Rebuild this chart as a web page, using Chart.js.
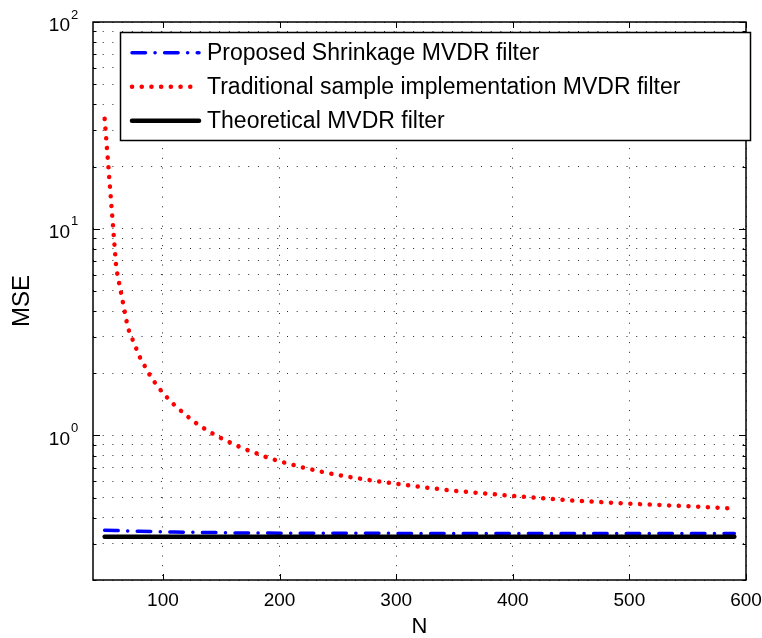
<!DOCTYPE html>
<html>
<head>
<meta charset="utf-8">
<script src="https://cdn.jsdelivr.net/npm/chart.js@4.4.0/dist/chart.umd.min.js"></script>
<style>
  body { margin: 0; background: #fff; }
  canvas { display: block; }
</style>
</head>
<body>
<canvas id="myChart" width="762" height="638"></canvas>
<script>
// sample sizes N
var nVals = [50, 60, 65, 70, 80, 90, 100, 110, 120, 130, 140, 150, 160, 170, 180, 190, 200,
	220, 240, 260, 280, 300, 325, 350, 375, 400, 450, 500, 550, 590];
// Proposed Shrinkage MVDR filter
var shrinkMSE = [0.348, 0.347, 0.346, 0.345, 0.344, 0.343, 0.342, 0.341, 0.340, 0.340, 0.339, 0.339, 0.338, 0.338, 0.338, 0.338, 0.337,
	0.337, 0.337, 0.337, 0.337, 0.336, 0.336, 0.336, 0.336, 0.336, 0.336, 0.336, 0.336, 0.336];
// Traditional sample implementation MVDR filter
var sampleMSE = [34, 6.4, 4.6, 3.3, 2.4, 1.9, 1.6, 1.4, 1.25, 1.13, 1.04, 0.97, 0.91, 0.86, 0.82, 0.78, 0.75,
	0.70, 0.66, 0.63, 0.605, 0.585, 0.56, 0.54, 0.525, 0.51, 0.485, 0.468, 0.455, 0.443];
// Theoretical MVDR filter
var theoN = [50, 590];
var theoMSE = [0.324, 0.324];

var xTicks = [100, 200, 300, 400, 500, 600];
var yMajor = [1, 10, 100];
var yExp = ['0', '1', '2'];
var yGrid = [0.2, 0.3, 0.4, 0.5, 0.6, 0.7, 0.8, 0.9, 1, 2, 3, 4, 5, 6, 7, 8, 9, 10, 20, 30, 40, 50, 60, 70, 80, 90, 100];

var FONT = "'Liberation Sans', Arial, Helvetica, sans-serif";

function pts(xs, ys) {
	var out = [];
	for (var i in xs) {
		out.push({x: xs[i], y: ys[i]});
	}
	return out;
}

var chartdata = {
	datasets: [
		{
			label: 'Proposed Shrinkage MVDR filter',
			data: pts(nVals, shrinkMSE),
			borderColor: '#0000ff',
			borderWidth: 3.5,
			borderDash: [13.5, 9.5, 0.1, 9.5],
			borderCapStyle: 'round',
			order: 1
		},
		{
			label: 'Traditional sample implementation MVDR filter',
			data: pts(nVals, sampleMSE),
			borderColor: '#ff0000',
			borderWidth: 4.5,
			borderDash: [0.1, 9.6],
			borderCapStyle: 'round',
			order: 2
		},
		{
			label: 'Theoretical MVDR filter',
			data: pts(theoN, theoMSE),
			borderColor: '#000000',
			borderWidth: 4.5,
			borderCapStyle: 'round',
			order: 0
		}
	]
};

// frame, inward ticks, y labels with exponents, legend box
var matlabLook = {
	id: 'matlabLook',
	afterDraw: function(chart) {
		var ctx = chart.ctx;
		var a = chart.chartArea;
		var xs = chart.scales.x, ys = chart.scales.y;
		ctx.save();
		ctx.strokeStyle = '#000';
		ctx.lineWidth = 1.5;
		ctx.strokeRect(a.left, a.top, a.right - a.left, a.bottom - a.top);

		ctx.lineWidth = 1;
		ctx.beginPath();
		xTicks.forEach(function(v) {
			var px = Math.round(xs.getPixelForValue(v)) + 0.5;
			ctx.moveTo(px, a.bottom); ctx.lineTo(px, a.bottom - 6);
			ctx.moveTo(px, a.top); ctx.lineTo(px, a.top + 6);
		});
		yGrid.forEach(function(v) {
			var py = Math.round(ys.getPixelForValue(v)) + 0.5;
			var len = yMajor.indexOf(v) >= 0 ? 7 : 3.5;
			ctx.moveTo(a.left, py); ctx.lineTo(a.left + len, py);
			ctx.moveTo(a.right, py); ctx.lineTo(a.right - len, py);
		});
		ctx.stroke();

		// y tick labels 10^k
		ctx.fillStyle = '#000';
		ctx.textBaseline = 'middle';
		yMajor.forEach(function(v, i) {
			var py = ys.getPixelForValue(v);
			ctx.font = '19px ' + FONT;
			ctx.textAlign = 'right';
			ctx.fillText('10', 70, py + 4);
			ctx.font = '13px ' + FONT;
			ctx.textAlign = 'left';
			ctx.fillText(yExp[i], 71, py - 7);
		});

		// legend
		var lx = 120.5, ly = 32.5, lw = 630, lh = 108;
		ctx.fillStyle = '#fff';
		ctx.fillRect(lx, ly, lw, lh);
		ctx.strokeStyle = '#000';
		ctx.lineWidth = 1.5;
		ctx.strokeRect(lx, ly, lw, lh);
		var rows = [52.7, 86.7, 120.7];
		chart.data.datasets.forEach(function(ds, i) {
			ctx.save();
			ctx.strokeStyle = ds.borderColor;
			ctx.lineWidth = ds.borderWidth;
			ctx.lineCap = 'round';
			ctx.setLineDash(ds.borderDash || []);
			ctx.beginPath();
			ctx.moveTo(132, rows[i]);
			ctx.lineTo(199, rows[i]);
			ctx.stroke();
			ctx.restore();
			ctx.fillStyle = '#000';
			ctx.font = '23px ' + FONT;
			ctx.textAlign = 'left';
			ctx.textBaseline = 'middle';
			ctx.fillText(ds.label, 207, rows[i] + 1);
		});
		ctx.restore();
	}
};

var ctx = document.getElementById('myChart');

var mseChart = new Chart(ctx, {
	type: 'line',
	data: chartdata,
	plugins: [matlabLook],
	options: {
		responsive: false,
		animation: false,
		layout: { padding: { left: 0, right: 16, top: 22, bottom: 0 } },
		elements: { point: { radius: 0 }, line: { tension: 0 } },
		plugins: {
			legend: { display: false },
			tooltip: { enabled: false }
		},
		scales: {
			x: {
				type: 'linear',
				min: 40,
				max: 600,
				afterBuildTicks: function(scale) {
					scale.ticks = xTicks.map(function(v) { return {value: v}; });
				},
				afterFit: function(scale) {
					scale.height = 58;
					scale.paddingLeft = 0;
					scale.paddingRight = 0;
				},
				grid: { color: 'rgba(0,0,0,0.85)', lineWidth: 1, drawTicks: false },
				border: { display: false, dash: [1, 8.7] },
				ticks: {
					color: '#000',
					padding: 9,
					maxRotation: 0,
					autoSkip: false,
					font: { family: FONT, size: 19 },
					callback: function(v) { return String(v); }
				},
				title: {
					display: true,
					text: 'N',
					color: '#000',
					font: { family: FONT, size: 22, lineHeight: 1 },
					padding: { top: 0, bottom: 0 }
				}
			},
			y: {
				type: 'logarithmic',
				min: 0.2,
				max: 100,
				afterBuildTicks: function(scale) {
					scale.ticks = yGrid.map(function(v) { return {value: v}; });
				},
				afterFit: function(scale) {
					scale.width = 93;
					scale.paddingTop = 0;
					scale.paddingBottom = 0;
				},
				grid: { color: 'rgba(0,0,0,0.85)', lineWidth: 1, drawTicks: false },
				border: { display: false, dash: [1, 8.7] },
				ticks: {
					autoSkip: false,
					callback: function() { return ''; }
				},
				title: {
					display: true,
					text: 'MSE',
					color: '#000',
					font: { family: FONT, size: 24 },
					padding: { top: 8, bottom: 0 }
				}
			}
		}
	}
});
</script>
</body>
</html>
